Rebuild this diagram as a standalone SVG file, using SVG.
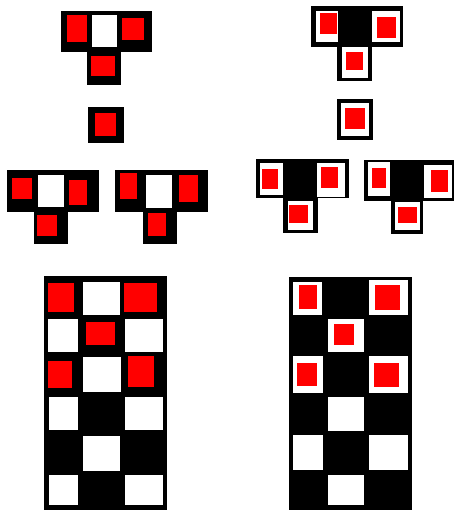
<svg xmlns="http://www.w3.org/2000/svg" width="454" height="511" viewBox="0 0 454 511">
<style>
.k{fill:#000}
.w{fill:#fff}
.r{fill:#f00}
.t{stroke:#999;stroke-width:1}
</style>
<rect width="454" height="511" fill="#fff"/>

<g id="t-top-left">
<rect class="k" x="61" y="11" width="91" height="41"/>
<rect class="k" x="87" y="51" width="34" height="34"/>
<rect class="w" x="92" y="15" width="25" height="32"/>
<rect class="r" x="67" y="15" width="20" height="27"/>
<rect class="r" x="122" y="18" width="22" height="22"/>
<rect class="r" x="91" y="56" width="24" height="20"/>
</g>

<g id="t-top-right">
<rect class="k" x="311" y="6" width="92" height="41"/>
<rect class="k" x="337" y="46" width="35" height="35"/>
<rect class="w" x="316" y="11" width="22" height="31"/>
<rect class="w" x="372" y="11" width="28" height="31"/>
<rect class="w" x="342" y="47" width="26" height="31"/>
<rect class="r" x="320" y="13" width="17" height="21"/>
<rect class="r" x="377" y="17" width="19" height="21"/>
<rect class="r" x="346" y="52" width="17" height="18"/>
</g>

<g id="single-left">
<rect class="k" x="88" y="107" width="36" height="36"/>
<rect class="r" x="95" y="113" width="21" height="23"/>
</g>

<g id="single-right">
<rect class="k" x="337" y="99" width="36" height="41"/>
<rect class="w" x="341" y="103" width="28" height="33"/>
<rect class="r" x="345" y="108" width="20" height="21"/>
</g>

<g id="t-mid-left-a">
<rect class="k" x="7" y="170" width="92" height="42"/>
<rect class="k" x="34" y="211" width="34" height="33"/>
<rect class="w" x="38" y="175" width="26" height="32"/>
<rect class="r" x="12" y="178" width="20" height="21"/>
<rect class="r" x="69" y="180" width="18" height="25"/>
<rect class="r" x="37" y="215" width="20" height="21"/>
</g>

<g id="t-mid-left-b">
<rect class="k" x="115" y="170" width="93" height="42"/>
<rect class="k" x="143" y="211" width="34" height="33"/>
<rect class="w" x="146" y="175" width="26" height="33"/>
<rect class="r" x="120" y="173" width="17" height="26"/>
<rect class="r" x="179" y="175" width="19" height="27"/>
<rect class="r" x="148" y="213" width="18" height="23"/>
</g>

<g id="t-mid-right-a">
<rect class="k" x="256" y="159" width="93" height="39"/>
<rect class="k" x="283" y="197" width="35" height="36"/>
<rect class="w" x="260" y="163" width="23" height="32"/>
<rect class="w" x="317" y="163" width="28" height="34"/>
<rect class="w" x="288" y="201" width="25" height="29"/>
<rect class="r" x="262" y="169" width="16" height="20"/>
<rect class="r" x="321" y="167" width="17" height="21"/>
<rect class="r" x="289" y="205" width="19" height="18"/>
</g>

<g id="t-mid-right-b">
<rect class="k" x="364" y="160" width="90" height="41"/>
<rect class="k" x="391" y="200" width="32" height="34"/>
<rect class="w" x="368" y="162" width="22" height="34"/>
<rect class="w" x="424" y="165" width="28" height="33"/>
<rect class="w" x="395" y="202" width="25" height="28"/>
<rect class="r" x="372" y="168" width="14" height="20"/>
<rect class="r" x="431" y="170" width="17" height="22"/>
<rect class="r" x="398" y="207" width="19" height="16"/>
</g>

<g id="grid-left">
<rect class="k" x="44" y="276" width="123" height="234"/>
<rect class="r" x="48" y="283" width="26" height="29"/>
<rect class="w" x="83" y="282" width="37" height="33"/>
<rect class="r" x="124" y="283" width="33" height="29"/>
<rect class="w" x="48" y="319" width="30" height="33"/>
<rect class="r" x="86" y="322" width="29" height="23"/>
<rect class="w" x="125" y="319" width="38" height="33"/>
<rect class="r" x="48" y="361" width="24" height="27"/>
<rect class="w" x="83" y="357" width="38" height="35"/>
<rect class="r" x="128" y="356" width="26" height="31"/>
<rect class="w" x="49" y="397" width="29" height="33"/>
<rect class="w" x="125" y="397" width="38" height="33"/>
<rect class="w" x="83" y="436" width="37" height="35"/>
<rect class="w" x="49" y="475" width="29" height="30"/>
<rect class="w" x="125" y="475" width="38" height="30"/>
</g>

<g id="grid-right">
<rect class="k" x="289" y="277" width="123" height="233"/>
<rect class="w" x="293" y="282" width="29" height="33"/>
<rect class="r" x="299" y="285" width="18" height="24"/>
<rect class="w" x="369" y="280" width="39" height="35"/>
<rect class="r" x="375" y="285" width="25" height="25"/>
<rect class="w" x="328" y="319" width="36" height="33"/>
<rect class="r" x="334" y="324" width="20" height="21"/>
<rect class="w" x="293" y="356" width="30" height="37"/>
<rect class="r" x="297" y="363" width="20" height="23"/>
<rect class="w" x="369" y="356" width="39" height="37"/>
<rect class="r" x="374" y="363" width="25" height="24"/>
<rect class="w" x="328" y="397" width="36" height="34"/>
<rect class="w" x="293" y="435" width="30" height="35"/>
<rect class="w" x="369" y="435" width="39" height="35"/>
<rect class="w" x="328" y="475" width="36" height="30"/>
</g>
</svg>
